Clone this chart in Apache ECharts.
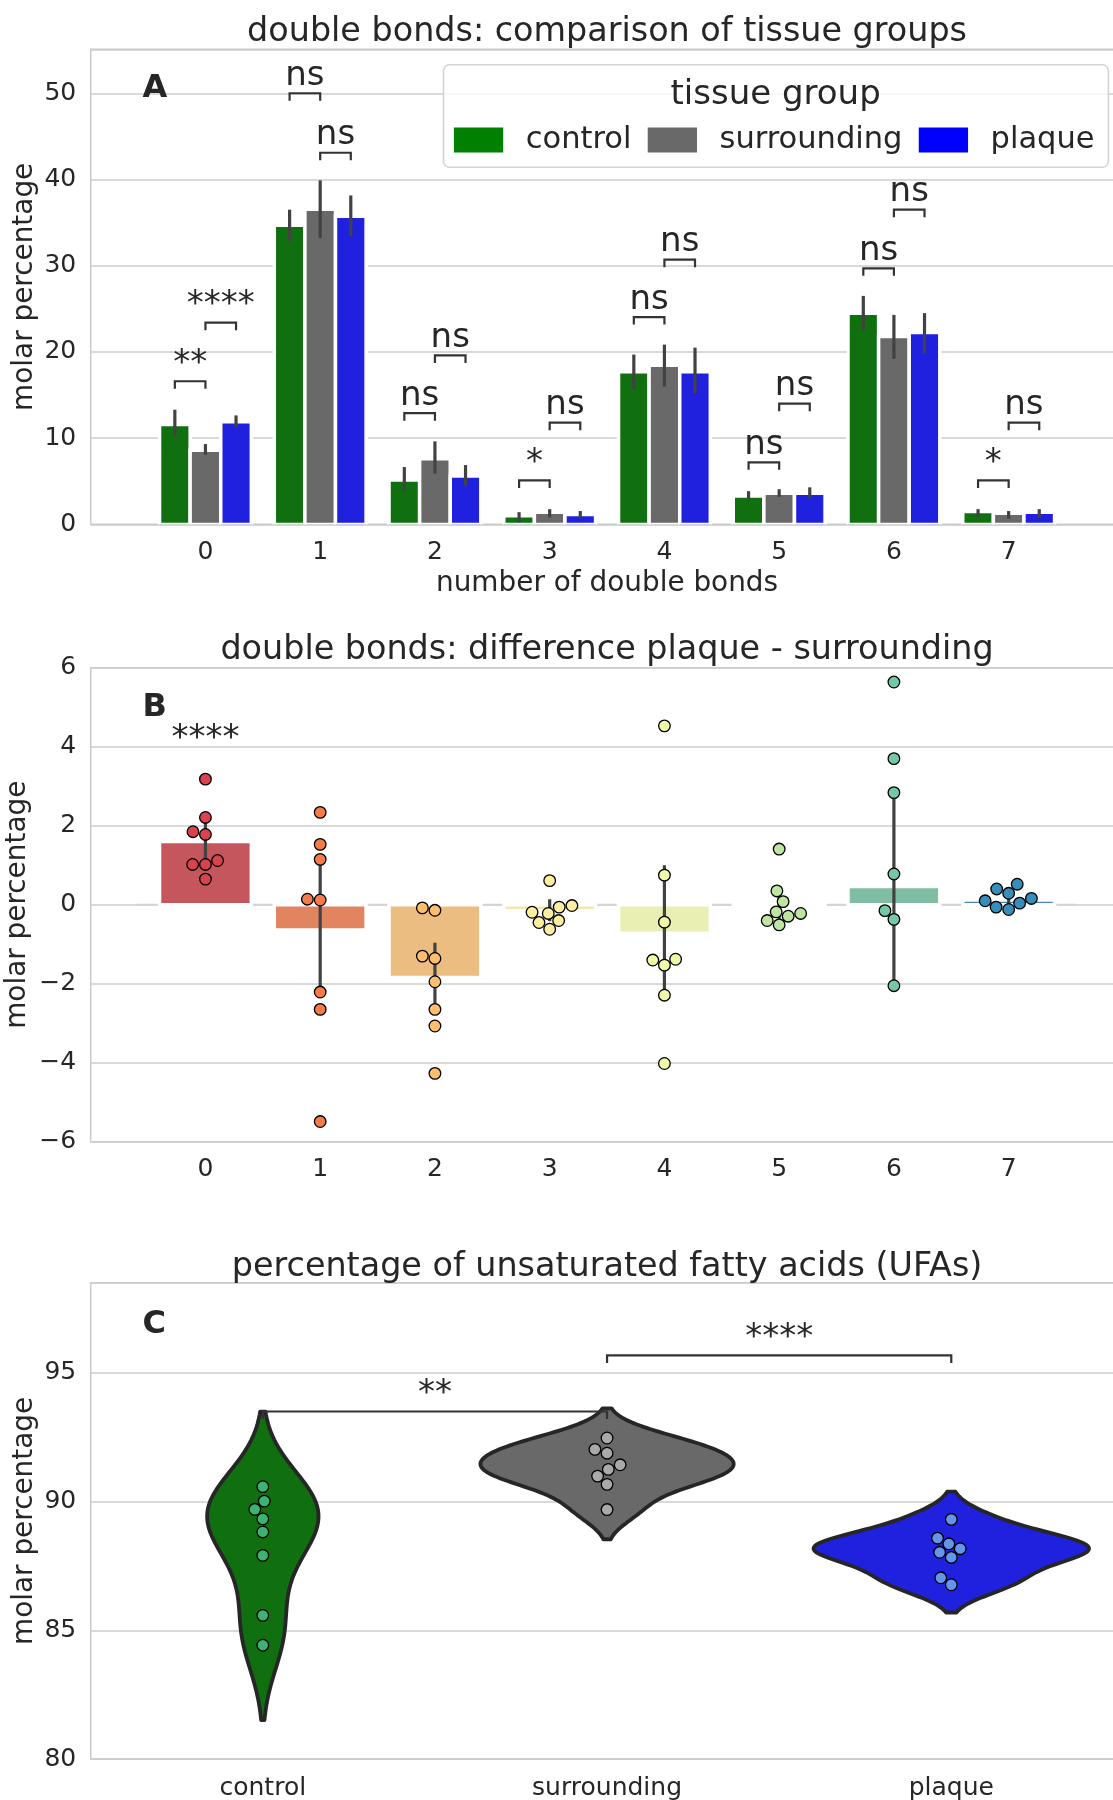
<!DOCTYPE html>
<html>
<head>
<meta charset="utf-8">
<title>double bonds and unsaturated fatty acids</title>
<script src="https://cdn.jsdelivr.net/npm/echarts@6/dist/echarts.min.js"></script>
<style>
  html, body { margin: 0; padding: 0; background: #ffffff; }
  #chart { width: 1113px; height: 1800px; }
</style>
</head>
<body>
<div id="chart"></div>
<script>
// ---------- panel A: molar percentage per number of double bonds ----------
const bondCounts = [0, 1, 2, 3, 4, 5, 6, 7];
const tissueGroups = ['control', 'surrounding', 'plaque'];
const groupColors = ['#008000', '#696969', '#0000ff'];

const controlMean = [11.6, 34.7, 5.15, 1.0, 17.7, 3.3, 24.5, 1.5];
const controlLow = [10.2, 32.9, 3.86, 0.22, 15.6, 2.8, 22.5, 0.9];
const controlHigh = [13.3, 36.5, 6.65, 1.42, 19.7, 3.86, 26.5, 1.77];
const surroundingMean = [8.6, 36.55, 7.6, 1.4, 18.45, 3.6, 21.8, 1.3];
const surroundingLow = [8.07, 33.2, 5.9, 0.8, 16.0, 3.19, 19.2, 0.67];
const surroundingHigh = [9.32, 39.9, 9.63, 1.77, 20.85, 4.08, 24.3, 1.55];
const plaqueMean = [11.9, 35.75, 5.6, 1.15, 17.7, 3.6, 22.25, 1.4];
const plaqueLow = [11.3, 33.4, 4.5, 0.67, 15.2, 3.02, 19.8, 0.8];
const plaqueHigh = [12.64, 38.15, 6.88, 1.55, 20.5, 4.3, 24.5, 1.77];

// pairwise tests inside each bond count: pair = (left group, left group + 1)
const testBond = [0, 0, 1, 1, 2, 2, 3, 3, 4, 4, 5, 5, 6, 6, 7, 7];
const testLeftGroup = [0, 1, 0, 1, 0, 1, 0, 1, 0, 1, 0, 1, 0, 1, 0, 1];
const testLevel = [16.6, 23.4, 50.0, 43.1, 12.9, 19.6, 5.1, 11.8, 24.05, 30.7, 7.2, 14.0, 29.7, 36.5, 5.1, 11.8];
const testLabel = ['**', '****', 'ns', 'ns', 'ns', 'ns', '*', 'ns', 'ns', 'ns', 'ns', 'ns', 'ns', 'ns', '*', 'ns'];

// ---------- panel B: plaque - surrounding per sample ----------
const diffMean = [1.60, -0.64, -1.84, -0.15, -0.72, 0.02, 0.46, 0.12];
const diffLow = [1.05, -2.25, -2.75, -0.42, -2.30, -0.40, -2.05, -0.02];
const diffHigh = [2.15, 1.10, -0.96, 0.14, 1.00, 0.47, 2.84, 0.30];
const diffPoints = [
  [3.18, 2.21, 1.85, 1.78, 1.12, 1.02, 1.02, 0.65],
  [2.34, 1.53, 1.15, 0.14, 0.12, -2.21, -2.65, -5.49],
  [-0.08, -0.14, -1.30, -1.36, -1.95, -2.65, -3.07, -4.27],
  [0.61, -0.02, -0.06, -0.19, -0.22, -0.40, -0.45, -0.62],
  [4.53, 0.75, -0.44, -1.38, -1.40, -1.53, -2.29, -4.02],
  [1.41, 0.35, 0.08, -0.18, -0.22, -0.29, -0.40, -0.51],
  [5.64, 3.70, 2.84, 0.78, -0.15, -0.37, -2.05],
  [0.52, 0.40, 0.29, 0.16, 0.10, 0.04, -0.06, -0.12]
];
const diffPalette = ['#d8434e', '#f67b4a', '#fdbf6f', '#feeea2', '#f1f9a9', '#bfe5a0', '#75c8a5', '#388eba'];
const diffTestBond = [0];
const diffTestLevel = [3.76];
const diffTestLabel = ['****'];

// ---------- panel C: percentage of unsaturated fatty acids ----------
const ufaControl = [90.58, 90.02, 89.70, 89.33, 88.82, 87.91, 85.58, 84.42];
const ufaSurrounding = [92.47, 92.03, 91.88, 91.43, 91.25, 90.99, 90.67, 89.69];
const ufaPlaque = [89.31, 88.58, 88.36, 88.17, 88.03, 87.83, 87.04, 86.77];
const ufaPointColors = ['#3cb371', '#a9a9a9', '#6495ed'];
const ufaTestFrom = [0, 1];
const ufaTestTo = [1, 2];
const ufaTestLevel = [93.5, 95.68];
const ufaTestLabel = ['**', '****'];

// ---------- styling ----------
const FONT = 'DejaVu Sans';
const INK = '#262626';
const GRID_INK = '#cccccc';
const ERR_INK = '#424242';
const BRACKET_INK = '#333333';
const TICK_SIZE = 25;
const NAME_SIZE = 27.9;
const TITLE_SIZE = 33.4;
const SIG_SIZE = 34;
const TIP = 7.5;
const DODGE = 0.8 / 3;
const SWARM_R = 6.1;
const DOT_R = 5.8;
const DOT_EDGE = 1.3;

const PLOT_LEFT = 90.7;
const PLOT_WIDTH = 1032.7;
const panelBoxes = [
  { top: 49.3, height: 475.1 },
  { top: 667.8, height: 473.9 },
  { top: 1282.8, height: 476.2 }
];

// muted fills, as a 0.75 saturation factor in HLS space
function hexToRgb(h) { return [1, 3, 5].map(i => parseInt(h.slice(i, i + 2), 16) / 255); }
function rgbToHex(c) {
  return '#' + c.map(v => Math.round(Math.max(0, Math.min(1, v)) * 255).toString(16).padStart(2, '0')).join('');
}
function hueChannel(m1, m2, h) {
  h = ((h % 1) + 1) % 1;
  if (h < 1 / 6) return m1 + (m2 - m1) * h * 6;
  if (h < 0.5) return m2;
  if (h < 2 / 3) return m1 + (m2 - m1) * (2 / 3 - h) * 6;
  return m1;
}
function desaturate(hex, prop) {
  const [r, g, b] = hexToRgb(hex);
  const mx = Math.max(r, g, b), mn = Math.min(r, g, b);
  const l = (mx + mn) / 2;
  if (mx === mn) return hex;
  const d = mx - mn;
  let s = l <= 0.5 ? d / (mx + mn) : d / (2 - mx - mn);
  const rc = (mx - r) / d, gc = (mx - g) / d, bc = (mx - b) / d;
  let h = r === mx ? bc - gc : (g === mx ? 2 + rc - bc : 4 + gc - rc);
  h = ((h / 6) % 1 + 1) % 1;
  s *= prop;
  const m2 = l <= 0.5 ? l * (1 + s) : l + s - l * s;
  const m1 = 2 * l - m2;
  return rgbToHex([hueChannel(m1, m2, h + 1 / 3), hueChannel(m1, m2, h), hueChannel(m1, m2, h - 1 / 3)]);
}
const barColors = groupColors.map(c => desaturate(c, 0.75));
const diffBarColors = diffPalette.map(c => desaturate(c, 0.75));

// swarm layout: place points bottom-up, each at the free spot nearest the centre line
function beeswarm(ys, r) {
  const order = ys.map((y, i) => i).sort((a, b) => ys[b] - ys[a]);
  const placed = [];
  const offs = new Array(ys.length).fill(0);
  order.forEach(i => {
    const y = ys[i];
    const nb = [];
    for (let k = placed.length - 1; k >= 0; k--) {
      if (Math.abs(y - placed[k].y) < 2 * r) nb.unshift(placed[k]); else break;
    }
    let x = 0;
    if (nb.length) {
      const cands = [0];
      let leftFirst = true;
      nb.forEach(p => {
        const dy = y - p.y;
        const dx = Math.sqrt(Math.max(4 * r * r - dy * dy, 0)) * 1.05;
        if (leftFirst) cands.push(p.x - dx, p.x + dx); else cands.push(p.x + dx, p.x - dx);
        leftFirst = !leftFirst;
      });
      cands.sort((a, b) => Math.abs(a) - Math.abs(b));
      x = cands[cands.length - 1];
      for (const c of cands) {
        if (nb.every(p => (p.x - c) ** 2 + (p.y - y) ** 2 >= 4 * r * r - 1e-6)) { x = c; break; }
      }
    }
    placed.push({ x, y });
    offs[i] = x;
  });
  return offs;
}

function swarmGroup(api, xVal, vals, color) {
  const cx = api.coord([xVal, vals[0]])[0];
  const ys = vals.map(v => api.coord([xVal, v])[1]);
  const offs = beeswarm(ys, SWARM_R);
  return {
    type: 'group',
    children: ys.map((y, i) => ({
      type: 'circle',
      shape: { cx: cx + offs[i], cy: y, r: DOT_R },
      style: { fill: color, stroke: '#000000', lineWidth: DOT_EDGE }
    }))
  };
}

function sigText(x, yLine, label) {
  return {
    type: 'text', x: x, y: yLine - 8.5 - 0.346 * SIG_SIZE + 3,
    style: {
      text: label, fill: INK, font: SIG_SIZE + 'px "' + FONT + '"',
      align: 'center', verticalAlign: 'middle', textAlign: 'center', textVerticalAlign: 'middle'
    }
  };
}
function sigBracket(L, R, label) {
  return {
    type: 'group',
    children: [
      {
        type: 'polyline',
        shape: { points: [[L[0], L[1] + TIP], [L[0], L[1]], [R[0], R[1]], [R[0], R[1] + TIP]] },
        style: { stroke: BRACKET_INK, lineWidth: 2.2, fill: 'none' }
      },
      sigText((L[0] + R[0]) / 2, L[1], label)
    ]
  };
}

// kernel density (gaussian, Scott bandwidth, cut = 2) for the violins
function kdeProfile(vals) {
  const n = vals.length;
  const mean = vals.reduce((a, b) => a + b, 0) / n;
  const sd = Math.sqrt(vals.reduce((a, v) => a + (v - mean) ** 2, 0) / (n - 1));
  const bw = sd * Math.pow(n, -1 / 5);
  const lo = Math.min(...vals) - 2 * bw, hi = Math.max(...vals) + 2 * bw;
  const grid = [], dens = [];
  for (let k = 0; k < 100; k++) {
    const y = lo + (hi - lo) * k / 99;
    let s = 0;
    vals.forEach(v => { s += Math.exp(-0.5 * ((y - v) / bw) ** 2); });
    grid.push(y);
    dens.push(s / (n * bw * Math.sqrt(2 * Math.PI)));
  }
  return { grid, dens };
}
const ufaGroups = [ufaControl, ufaSurrounding, ufaPlaque];
const ufaProfiles = ufaGroups.map(kdeProfile);
const ufaMaxDensity = Math.max(...ufaProfiles.map(p => Math.max(...p.dens)));

const groupMeans = [controlMean, surroundingMean, plaqueMean];
const groupLows = [controlLow, surroundingLow, plaqueLow];
const groupHighs = [controlHigh, surroundingHigh, plaqueHigh];

function minusFmt(v) { return v < 0 ? '\u2212' + Math.abs(v) : String(v); }

const tickLabel = { fontSize: TICK_SIZE, color: INK, fontFamily: FONT };
const nameStyle = { fontSize: NAME_SIZE, color: INK, fontFamily: FONT };

function valueX(gridIndex, withName) {
  const ax = {
    gridIndex, type: 'value', min: -1, max: 8, interval: 1,
    axisLine: { show: false }, axisTick: { show: false }, splitLine: { show: false },
    axisLabel: Object.assign({ margin: 15.5, formatter: v => (bondCounts.indexOf(v) >= 0 ? String(v) : '') }, tickLabel)
  };
  if (withName) {
    Object.assign(ax, {
      name: 'number of double bonds', nameLocation: 'middle', nameGap: 45.5,
      nameTextStyle: nameStyle, nameMoveOverlap: false
    });
  }
  return ax;
}
function valueY(gridIndex, min, max, interval, gap) {
  return {
    gridIndex, type: 'value', min, max, interval,
    axisLine: { show: false }, axisTick: { show: false },
    splitLine: { show: true, lineStyle: { color: GRID_INK, width: 1.6 } },
    axisLabel: Object.assign({
      margin: 14.5,
      formatter: v => ((v - min) % interval === 0 ? minusFmt(v) : '')
    }, tickLabel),
    name: 'molar percentage', nameLocation: 'middle', nameRotate: 90, nameGap: gap,
    nameTextStyle: nameStyle, nameMoveOverlap: false
  };
}

const series = [];

// A: grouped bars
tissueGroups.forEach((name, g) => {
  series.push({
    type: 'custom', name, xAxisIndex: 0, yAxisIndex: 0, z: 2, clip: true,
    itemStyle: { color: groupColors[g] },
    encode: { x: 0, y: 1 },
    data: bondCounts.map((b, i) => [b, groupMeans[g][i]]),
    renderItem(params, api) {
      const b = api.value(0), m = api.value(1);
      const xc = b + (g - 1) * DODGE;
      const p0 = api.coord([xc - DODGE / 2, 0]);
      const p1 = api.coord([xc + DODGE / 2, m]);
      return {
        type: 'rect',
        shape: { x: p0[0], y: p1[1], width: p1[0] - p0[0], height: p0[1] - p1[1] },
        style: { fill: barColors[g], stroke: '#ffffff', lineWidth: 3.5 }
      };
    }
  });
});
// A: 95% intervals
series.push({
  type: 'custom', name: 'interval', xAxisIndex: 0, yAxisIndex: 0, z: 3, silent: true,
  encode: { x: 0, y: [1, 2] },
  data: tissueGroups.flatMap((n, g) => bondCounts.map((b, i) => [b + (g - 1) * DODGE, groupLows[g][i], groupHighs[g][i]])),
  renderItem(params, api) {
    const a = api.coord([api.value(0), api.value(1)]);
    const c = api.coord([api.value(0), api.value(2)]);
    return { type: 'line', shape: { x1: a[0], y1: a[1], x2: c[0], y2: c[1] }, style: { stroke: ERR_INK, lineWidth: 3.2 } };
  }
});
// A: test brackets
series.push({
  type: 'custom', name: 'tests', xAxisIndex: 0, yAxisIndex: 0, z: 4, silent: true,
  encode: { x: 0, y: 1 },
  data: testBond.map((b, k) => [b, testLevel[k], testLeftGroup[k]]),
  renderItem(params, api) {
    const b = api.value(0), lvl = api.value(1), g = api.value(2);
    const L = api.coord([b + (g - 1) * DODGE, lvl]);
    const R = api.coord([b + g * DODGE, lvl]);
    return sigBracket(L, R, testLabel[params.dataIndex]);
  }
});

// B: zero reference
series.push({
  type: 'line', name: 'zero', xAxisIndex: 1, yAxisIndex: 1, z: 1, silent: true,
  symbol: 'none', data: [[-0.6, 0], [7.6, 0]],
  lineStyle: { color: '#d3d3d3', width: 2 }
});
// B: mean difference bars with intervals
series.push({
  type: 'custom', name: 'difference', xAxisIndex: 1, yAxisIndex: 1, z: 2, clip: true,
  encode: { x: 0, y: [1, 2, 3] },
  data: bondCounts.map((b, i) => [b, diffMean[i], diffLow[i], diffHigh[i]]),
  renderItem(params, api) {
    const b = api.value(0), m = api.value(1);
    const p0 = api.coord([b - 0.4, 0]), p1 = api.coord([b + 0.4, m]);
    const e0 = api.coord([b, api.value(2)]), e1 = api.coord([b, api.value(3)]);
    return {
      type: 'group',
      children: [
        {
          type: 'rect',
          shape: { x: p0[0], y: Math.min(p0[1], p1[1]), width: p1[0] - p0[0], height: Math.abs(p1[1] - p0[1]) },
          style: { fill: diffBarColors[params.dataIndex], stroke: '#ffffff', lineWidth: 3.5 }
        },
        { type: 'line', shape: { x1: e0[0], y1: e0[1], x2: e1[0], y2: e1[1] }, style: { stroke: ERR_INK, lineWidth: 3.2 } }
      ]
    };
  }
});
// B: individual samples
series.push({
  type: 'custom', name: 'samples', xAxisIndex: 1, yAxisIndex: 1, z: 4, clip: true,
  encode: { x: 0, y: [1, 2] },
  data: bondCounts.map((b, i) => [b, Math.max(...diffPoints[i]), Math.min(...diffPoints[i])]),
  renderItem(params, api) {
    return swarmGroup(api, api.value(0), diffPoints[params.dataIndex], diffPalette[params.dataIndex]);
  }
});
// B: one-sample test label
series.push({
  type: 'custom', name: 'one-sample test', xAxisIndex: 1, yAxisIndex: 1, z: 5, silent: true,
  encode: { x: 0, y: 1 },
  data: diffTestBond.map((b, k) => [b, diffTestLevel[k]]),
  renderItem(params, api) {
    const p = api.coord([api.value(0), api.value(1)]);
    return sigText(p[0], p[1], diffTestLabel[params.dataIndex]);
  }
});

// C: violins
series.push({
  type: 'custom', name: 'UFA density', xAxisIndex: 2, yAxisIndex: 2, z: 2, clip: true,
  encode: { x: 0, y: [1, 2] },
  data: tissueGroups.map((n, i) => [i, ufaProfiles[i].grid[0], ufaProfiles[i].grid[99]]),
  renderItem(params, api) {
    const i = params.dataIndex, prof = ufaProfiles[i];
    const band = api.size([1, 0])[0];
    const cx = api.coord([i, prof.grid[0]])[0];
    const right = prof.grid.map((v, k) => [cx + prof.dens[k] / ufaMaxDensity * 0.4 * band, api.coord([i, v])[1]]);
    const left = prof.grid.map((v, k) => [cx - prof.dens[k] / ufaMaxDensity * 0.4 * band, api.coord([i, v])[1]]).reverse();
    return {
      type: 'polygon', shape: { points: right.concat(left) },
      style: { fill: barColors[i], stroke: '#262626', lineWidth: 3.8, lineJoin: 'round' }
    };
  }
});
// C: samples
series.push({
  type: 'custom', name: 'UFA samples', xAxisIndex: 2, yAxisIndex: 2, z: 4, clip: true,
  encode: { x: 0, y: [1, 2] },
  data: tissueGroups.map((n, i) => [i, Math.max(...ufaGroups[i]), Math.min(...ufaGroups[i])]),
  renderItem(params, api) {
    return swarmGroup(api, api.value(0), ufaGroups[params.dataIndex], ufaPointColors[params.dataIndex]);
  }
});
// C: test brackets
series.push({
  type: 'custom', name: 'UFA tests', xAxisIndex: 2, yAxisIndex: 2, z: 5, silent: true,
  encode: { x: [0, 1], y: 2 },
  data: ufaTestFrom.map((f, k) => [f, ufaTestTo[k], ufaTestLevel[k]]),
  renderItem(params, api) {
    const lvl = api.value(2);
    const L = api.coord([api.value(0), lvl]);
    const R = api.coord([api.value(1), lvl]);
    return sigBracket(L, R, ufaTestLabel[params.dataIndex]);
  }
});

function titleAt(text, top) {
  return {
    text, left: PLOT_LEFT + PLOT_WIDTH / 2, top, textAlign: 'center', padding: 0,
    textStyle: { fontSize: TITLE_SIZE, fontWeight: 'normal', color: INK, fontFamily: FONT }
  };
}
function panelLetter(letter, y) {
  return {
    type: 'text', x: 142.5, y, z: 6,
    style: {
      text: letter, fill: INK, font: 'bold 32px "' + FONT + '"',
      align: 'left', verticalAlign: 'middle', textAlign: 'left', textVerticalAlign: 'middle'
    }
  };
}

const option = {
  animation: false,
  backgroundColor: '#ffffff',
  textStyle: { fontFamily: FONT, color: INK },
  title: [
    titleAt('double bonds: comparison of tissue groups', 15.9),
    titleAt('double bonds: difference plaque - surrounding', 633.4),
    titleAt('percentage of unsaturated fatty acids (UFAs)', 1250.4)
  ],
  legend: {
    left: 453.9, top: 124.5, padding: 0, orient: 'horizontal',
    itemWidth: 49.3, itemHeight: 25, itemGap: 16.3, icon: 'rect', selectedMode: false, z: 10,
    data: tissueGroups.map((n, i) => ({ name: n, itemStyle: { color: groupColors[i] } })),
    textStyle: { fontSize: 30.5, color: INK, fontFamily: FONT, padding: [5, 0, 0, 17.5] }
  },
  grid: panelBoxes.map(p => ({
    left: PLOT_LEFT, top: p.top, width: PLOT_WIDTH, height: p.height,
    show: true, borderColor: GRID_INK, borderWidth: 1.6, backgroundColor: 'transparent',
    containLabel: false, outerBoundsMode: 'none'
  })),
  xAxis: [
    valueX(0, true),
    valueX(1, false),
    {
      gridIndex: 2, type: 'category', data: tissueGroups, boundaryGap: true,
      axisLine: { show: false }, axisTick: { show: false }, splitLine: { show: false },
      axisLabel: Object.assign({ margin: 16.5, interval: 0 }, tickLabel)
    }
  ],
  yAxis: [
    valueY(0, 0, 55.1, 10, 52.4),
    valueY(1, -6, 6, 2, 58.5),
    valueY(2, 80, 98.5, 5, 52.4)
  ],
  graphic: [
    {
      type: 'rect', z: 5,
      shape: { x: 443.5, y: 64.7, width: 664.9, height: 102.6, r: 6 },
      style: { fill: 'rgba(255,255,255,0.8)', stroke: '#d4d4d4', lineWidth: 1.6 }
    },
    {
      type: 'text', x: 775.6, y: 95.3, z: 6,
      style: {
        text: 'tissue group', fill: INK, font: '34px "' + FONT + '"',
        align: 'center', verticalAlign: 'middle', textAlign: 'center', textVerticalAlign: 'middle'
      }
    },
    panelLetter('A', 88.8),
    panelLetter('B', 707.2),
    panelLetter('C', 1324.5)
  ],
  series
};

const chart = echarts.init(document.getElementById('chart'), null, { renderer: 'canvas', width: 1113, height: 1800 });
chart.setOption(option);
</script>
</body>
</html>
